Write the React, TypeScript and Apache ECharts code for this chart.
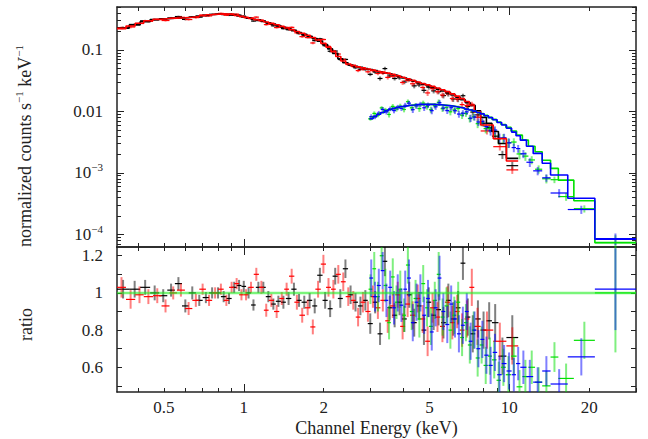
import { useEffect, useRef } from 'react';
import * as echarts from 'echarts';

// one row per channel bin: [low edge (keV), model (counts/s/keV), data/model ratio, ratio error]
type Bin = [number, number, number, number];

const blackBins: Bin[] = [
  [0.333, 0.225, 1.02, 0.05], [0.37, 0.255, 1.02, 0.045], [0.407, 0.289, 1.03, 0.04],
  [0.444, 0.312, 1.0, 0.04], [0.48, 0.322, 0.985, 0.035], [0.515, 0.328, 1.015, 0.035],
  [0.55, 0.333, 1.05, 0.035], [0.585, 0.338, 0.93, 0.035], [0.62, 0.345, 1.0, 0.035],
  [0.66, 0.356, 0.96, 0.03], [0.7, 0.368, 0.975, 0.03], [0.74, 0.378, 1.0, 0.03],
  [0.78, 0.385, 1.0, 0.03], [0.82, 0.384, 0.98, 0.03], [0.86, 0.378, 0.97, 0.03],
  [0.9, 0.368, 1.03, 0.03], [0.94, 0.356, 1.04, 0.03], [0.98, 0.343, 1.035, 0.03],
  [1.02, 0.33, 1.0, 0.03], [1.065, 0.316, 0.935, 0.03], [1.11, 0.303, 1.03, 0.03],
  [1.16, 0.29, 1.03, 0.03], [1.21, 0.277, 0.98, 0.03], [1.265, 0.263, 0.94, 0.03],
  [1.32, 0.249, 0.955, 0.03], [1.38, 0.234, 0.95, 0.035], [1.44, 0.22, 0.97, 0.035],
  [1.51, 0.206, 1.02, 0.035], [1.58, 0.192, 0.96, 0.035], [1.65, 0.18, 0.95, 0.035],
  [1.73, 0.167, 0.96, 0.04], [1.81, 0.153, 0.93, 0.04], [1.89, 0.139, 1.095, 0.04],
  [1.98, 0.122, 0.96, 0.045], [2.07, 0.104, 0.915, 0.045], [2.16, 0.088, 1.09, 0.045],
  [2.26, 0.072, 0.97, 0.05], [2.36, 0.062, 1.13, 0.05], [2.47, 0.057, 0.99, 0.05],
  [2.58, 0.054, 0.95, 0.05], [2.69, 0.052, 0.93, 0.05], [2.81, 0.05, 0.96, 0.055],
  [2.93, 0.048, 0.835, 0.055], [3.06, 0.046, 0.95, 0.06], [3.19, 0.044, 0.78, 0.06],
  [3.33, 0.0425, 1.17, 0.08], [3.47, 0.041, 0.92, 0.065], [3.62, 0.039, 0.88, 0.065],
  [3.78, 0.037, 0.95, 0.07], [3.94, 0.035, 0.86, 0.07], [4.11, 0.033, 0.99, 0.07],
  [4.29, 0.031, 0.84, 0.075], [4.48, 0.029, 0.93, 0.075], [4.67, 0.0275, 0.8, 0.08],
  [4.87, 0.026, 0.95, 0.08], [5.08, 0.0245, 0.88, 0.08], [5.3, 0.023, 0.91, 0.085],
  [5.53, 0.0215, 0.84, 0.085], [5.77, 0.02, 0.96, 0.09], [6.02, 0.0185, 0.86, 0.09],
  [6.28, 0.017, 0.92, 0.09], [6.55, 0.0155, 1.16, 0.09], [6.83, 0.0138, 0.87, 0.1],
  [7.13, 0.0125, 0.78, 0.1], [7.44, 0.0102, 0.86, 0.1], [7.8, 0.008, 0.8, 0.1],
  [8.2, 0.0064, 0.85, 0.1], [8.6, 0.0047, 0.84, 0.1], [9.1, 0.003, 0.66, 0.1],
  [9.75, 0.00172, 0.76, 0.12],
];
const blackEnd = 10.8;

const redBins: Bin[] = [
  [0.333, 0.222, 1.03, 0.055], [0.36, 0.245, 0.965, 0.05], [0.39, 0.272, 0.99, 0.045],
  [0.42, 0.298, 0.98, 0.04], [0.455, 0.316, 0.985, 0.04], [0.49, 0.324, 0.93, 0.035],
  [0.525, 0.33, 1.0, 0.035], [0.56, 0.335, 1.015, 0.035], [0.6, 0.341, 0.916, 0.035],
  [0.64, 0.35, 0.96, 0.035], [0.68, 0.362, 1.02, 0.03], [0.72, 0.373, 0.96, 0.03],
  [0.76, 0.382, 1.0, 0.03], [0.8, 0.386, 1.02, 0.03], [0.84, 0.383, 0.96, 0.03],
  [0.88, 0.375, 1.03, 0.03], [0.92, 0.364, 1.05, 0.03], [0.96, 0.352, 0.99, 0.03],
  [1.0, 0.339, 0.99, 0.03], [1.04, 0.325, 1.03, 0.03], [1.09, 0.311, 1.1, 0.035],
  [1.14, 0.298, 1.03, 0.035], [1.19, 0.285, 0.907, 0.035], [1.24, 0.271, 0.96, 0.035],
  [1.3, 0.257, 0.9, 0.035], [1.36, 0.242, 0.97, 0.035], [1.42, 0.228, 1.02, 0.035],
  [1.48, 0.214, 1.09, 0.04], [1.55, 0.2, 0.95, 0.04], [1.62, 0.187, 0.88, 0.04],
  [1.7, 0.173, 0.92, 0.04], [1.78, 0.159, 0.817, 0.04], [1.86, 0.145, 1.02, 0.045],
  [1.95, 0.128, 1.155, 0.05], [2.04, 0.111, 1.03, 0.05], [2.13, 0.094, 1.02, 0.05],
  [2.22, 0.078, 1.1, 0.05], [2.32, 0.066, 1.06, 0.05], [2.42, 0.059, 0.98, 0.05],
  [2.53, 0.056, 0.96, 0.05], [2.64, 0.053, 0.87, 0.05], [2.75, 0.051, 0.95, 0.055],
  [2.87, 0.049, 0.9, 0.055], [3.0, 0.047, 0.98, 0.06], [3.13, 0.045, 0.92, 0.06],
  [3.27, 0.0435, 0.96, 0.06], [3.41, 0.042, 0.85, 0.065], [3.56, 0.04, 0.93, 0.065],
  [3.72, 0.038, 0.99, 0.07], [3.88, 0.036, 0.82, 0.07], [4.05, 0.034, 0.94, 0.07],
  [4.23, 0.032, 0.88, 0.075], [4.42, 0.03, 0.97, 0.075], [4.62, 0.0285, 0.86, 0.075],
  [4.82, 0.027, 0.74, 0.08], [5.03, 0.0255, 0.92, 0.08], [5.25, 0.024, 0.87, 0.08],
  [5.48, 0.0225, 0.82, 0.085], [5.72, 0.021, 0.95, 0.085], [5.97, 0.0193, 0.84, 0.09],
  [6.23, 0.0177, 0.9, 0.09], [6.5, 0.0161, 0.8, 0.09], [6.78, 0.0145, 0.86, 0.1],
  [7.07, 0.0127, 1.03, 0.1], [7.38, 0.0098, 0.82, 0.1], [7.8, 0.006, 0.8, 0.1],
  [8.7, 0.0036, 0.74, 0.1], [9.75, 0.00156, 0.715, 0.1],
];
const redEnd = 10.8;

const greenBins: Bin[] = [
  [2.95, 0.0075, 1.02, 0.08], [3.05, 0.0082, 1.13, 0.09], [3.15, 0.0089, 0.98, 0.08],
  [3.25, 0.0095, 1.2, 0.08], [3.36, 0.0101, 1.04, 0.09], [3.47, 0.0106, 0.84, 0.09],
  [3.58, 0.0111, 1.086, 0.1], [3.7, 0.0115, 0.95, 0.09], [3.82, 0.0119, 1.02, 0.1],
  [3.95, 0.0122, 0.88, 0.09], [4.08, 0.0125, 1.15, 0.1], [4.22, 0.0127, 0.9, 0.1],
  [4.36, 0.0128, 0.97, 0.1], [4.51, 0.0129, 0.86, 0.1], [4.66, 0.013, 1.05, 0.1],
  [4.82, 0.013, 0.92, 0.1], [4.98, 0.013, 0.82, 0.1], [5.15, 0.0129, 0.96, 0.1],
  [5.33, 0.0128, 1.1, 0.12], [5.51, 0.0127, 0.87, 0.1], [5.7, 0.0125, 0.93, 0.1],
  [5.9, 0.0123, 0.8, 0.1], [6.1, 0.012, 0.88, 0.1], [6.31, 0.0117, 0.95, 0.11],
  [6.53, 0.0114, 0.76, 0.1], [6.75, 0.011, 0.84, 0.1], [6.98, 0.0106, 0.72, 0.1],
  [7.22, 0.0102, 0.8, 0.1], [7.47, 0.0097, 0.65, 0.1], [7.73, 0.0092, 0.72, 0.1],
  [8.0, 0.0086, 0.61, 0.1], [8.3, 0.008, 0.66, 0.1], [8.6, 0.0074, 0.64, 0.1],
  [8.95, 0.0067, 0.53, 0.1], [9.3, 0.0061, 0.6, 0.1], [9.7, 0.0055, 0.56, 0.1],
  [10.15, 0.0048, 0.66, 0.1], [10.65, 0.0041, 0.495, 0.09], [11.2, 0.0034, 0.55, 0.09],
  [11.8, 0.0027, 0.6, 0.09], [12.5, 0.0022, 0.52, 0.08], [13.3, 0.0016, 0.5, 0.08],
  [14.3, 0.00118, 0.655, 0.08], [15.3, 0.00076, 0.54, 0.08], [17.5, 0.00035, 0.745, 0.1],
  [21, 0.000073, 1.0, 0.32],
];
const greenEnd = 30;

const blueBins: Bin[] = [
  [2.97, 0.0076, 1.08, 0.1], [3.07, 0.0083, 0.98, 0.08], [3.17, 0.009, 1.04, 0.09],
  [3.28, 0.0096, 1.12, 0.1], [3.39, 0.0102, 0.96, 0.09], [3.5, 0.0107, 1.03, 0.09],
  [3.62, 0.0112, 0.92, 0.09], [3.74, 0.0116, 1.0, 0.1], [3.86, 0.012, 0.934, 0.09],
  [3.99, 0.0123, 1.02, 0.1], [4.12, 0.0126, 1.08, 0.1], [4.26, 0.0127, 0.84, 0.1],
  [4.4, 0.0129, 0.95, 0.1], [4.55, 0.013, 1.0, 0.1], [4.7, 0.013, 0.88, 0.1],
  [4.86, 0.013, 0.97, 0.1], [5.02, 0.013, 0.79, 0.1], [5.19, 0.0129, 0.92, 0.1],
  [5.37, 0.0128, 1.08, 0.12], [5.55, 0.0126, 0.9, 0.1], [5.74, 0.0124, 0.83, 0.1],
  [5.94, 0.0122, 0.94, 0.1], [6.14, 0.0119, 0.86, 0.1], [6.35, 0.0116, 0.78, 0.1],
  [6.57, 0.0113, 0.826, 0.1], [6.8, 0.0109, 0.9, 0.1], [7.03, 0.0105, 0.74, 0.1],
  [7.27, 0.0101, 0.8, 0.1], [7.52, 0.0096, 0.7, 0.1], [7.78, 0.0091, 0.75, 0.1],
  [8.05, 0.0085, 0.665, 0.1], [8.35, 0.0079, 0.61, 0.1], [8.66, 0.0073, 0.68, 0.1],
  [9.0, 0.0066, 0.56, 0.1], [9.36, 0.006, 0.62, 0.1], [9.76, 0.0053, 0.58, 0.1],
  [10.2, 0.0046, 0.56, 0.09], [10.6, 0.004, 0.62, 0.09], [11.0, 0.0034, 0.6, 0.09],
  [11.6, 0.0027, 0.55, 0.09], [12.3, 0.00207, 0.52, 0.08], [13.3, 0.00143, 0.58, 0.08],
  [14.3, 0.00092, 0.51, 0.08], [16.6, 0.000385, 0.656, 0.1], [21, 0.000083, 1.02, 0.22],
];
const blueEnd = 30;

const xLabelValues = [0.5, 1, 2, 5, 10, 20];
const xMajorTicks = [1, 10];
const yTopLabelValues = [0.1, 0.01, 0.001, 0.0001];
const ratioLabelValues = [0.6, 0.8, 1, 1.2];
const ratioTickValues = [0.5, 0.6, 0.7, 0.8, 0.9, 1, 1.1, 1.2];

const X_MIN = 0.333;
const X_MAX = 30;
const Y_MIN = 6.2e-5;
const Y_MAX = 0.5;
const R_MIN = 0.467;
const R_MAX = 1.247;

const FONT = '"Liberation Serif", "DejaVu Serif", serif';
const INK = '#222';

function logMinors(lo: number, hi: number) {
  const out: number[] = [];
  for (let d = Math.floor(Math.log10(lo)); d <= Math.ceil(Math.log10(hi)); d++) {
    for (let k = 2; k <= 9; k++) {
      const v = +(k * Math.pow(10, d)).toPrecision(3);
      if (v >= lo && v <= hi) out.push(v);
    }
  }
  return out;
}

function edgesOf(bins: Bin[], end: number) {
  return bins.map((b, i) => [b[0], i + 1 < bins.length ? bins[i + 1][0] : end]);
}

function stepLine(bins: Bin[], end: number) {
  const e = edgesOf(bins, end);
  const pts: number[][] = [];
  bins.forEach((b, i) => {
    pts.push([e[i][0], b[1]], [e[i][1], b[1]]);
  });
  return pts;
}

function crossRows(bins: Bin[], end: number, top: boolean) {
  const e = edgesOf(bins, end);
  return bins.map((b, i) =>
    top ? [e[i][0], e[i][1], b[1] * b[2], b[1] * b[3]] : [e[i][0], e[i][1], b[2], b[3]]
  );
}

const crossItem = (color: string) => (_params: any, api: any) => {
  const lo = api.value(0);
  const hi = api.value(1);
  const y = api.value(2);
  const err = api.value(3);
  const xc = Math.sqrt(lo * hi);
  const a = api.coord([lo, y]);
  const b = api.coord([hi, y]);
  const t = api.coord([xc, y + err]);
  const u = api.coord([xc, Math.max(y - err, 1e-9)]);
  return {
    type: 'group',
    children: [
      { type: 'line', shape: { x1: t[0], y1: t[1], x2: u[0], y2: u[1] }, style: { stroke: color, lineWidth: 2, opacity: 0.5 } },
      { type: 'line', shape: { x1: a[0], y1: a[1], x2: b[0], y2: b[1] }, style: { stroke: color, lineWidth: 1.2 } },
    ],
  };
};

const frameLine = { show: true, lineStyle: { color: INK, width: 1.5 } };
const tickStyle = { color: INK, width: 1 };
const labelStyle = { fontFamily: FONT, fontSize: 17, color: INK };

function xAxesFor(grid: number) {
  const base = { gridIndex: grid, type: 'log', min: X_MIN, max: X_MAX, splitLine: { show: false } };
  const minor = { show: true, inside: true, length: 4, customValues: logMinors(X_MIN, X_MAX), lineStyle: tickStyle };
  const major = { show: true, inside: true, length: 8, customValues: xMajorTicks, lineStyle: tickStyle };
  return [
    {
      ...base,
      position: 'bottom',
      axisLine: frameLine,
      axisTick: minor,
      axisLabel:
        grid === 1
          ? { ...labelStyle, margin: 7, customValues: xLabelValues, formatter: (v: number) => String(v) }
          : { show: false },
      name: grid === 1 ? 'Channel Energy (keV)' : '',
      nameLocation: 'middle',
      nameGap: 27,
      nameTextStyle: { fontFamily: FONT, fontSize: 18, color: INK },
    },
    { ...base, position: 'bottom', axisLine: { show: false }, axisTick: major, axisLabel: { show: false } },
    { ...base, position: 'top', axisLine: frameLine, axisTick: minor, axisLabel: { show: false } },
    { ...base, position: 'top', axisLine: { show: false }, axisTick: major, axisLabel: { show: false } },
  ];
}

const topYBase = { gridIndex: 0, type: 'log', min: Y_MIN, max: Y_MAX, splitLine: { show: false } };
const topMinor = { show: true, inside: true, length: 4, customValues: logMinors(Y_MIN, Y_MAX), lineStyle: tickStyle };
const topMajor = { show: true, inside: true, length: 7, customValues: yTopLabelValues, lineStyle: tickStyle };
const ratioBase = { gridIndex: 1, type: 'value', min: R_MIN, max: R_MAX, splitLine: { show: false } };
const ratioTicks = { show: true, inside: true, length: 5, customValues: ratioTickValues, lineStyle: tickStyle };

const yAxes = [
  {
    ...topYBase,
    position: 'left',
    axisLine: frameLine,
    axisTick: topMinor,
    axisLabel: {
      ...labelStyle,
      margin: 14,
      lineHeight: 22,
      customValues: yTopLabelValues,
      formatter: (v: number) => (v >= 0.01 ? String(v) : '10{sup|−' + Math.round(-Math.log10(v)) + '}'),
      rich: { sup: { fontFamily: FONT, fontSize: 11, color: INK, verticalAlign: 'top' } },
    },
    name: 'normalized counts s{sup|−1} keV{sup|−1}',
    nameLocation: 'middle',
    nameRotate: 90,
    nameGap: 80,
    nameTextStyle: {
      fontFamily: FONT,
      fontSize: 18,
      color: INK,
      lineHeight: 24,
      padding: [0, 38, 0, 0],
      rich: { sup: { fontFamily: FONT, fontSize: 11, color: INK, verticalAlign: 'top' } },
    },
  },
  { ...topYBase, position: 'left', axisLine: { show: false }, axisTick: topMajor, axisLabel: { show: false } },
  { ...topYBase, position: 'right', axisLine: frameLine, axisTick: topMinor, axisLabel: { show: false } },
  { ...topYBase, position: 'right', axisLine: { show: false }, axisTick: topMajor, axisLabel: { show: false } },
  {
    ...ratioBase,
    position: 'left',
    axisLine: frameLine,
    axisTick: ratioTicks,
    axisLabel: { ...labelStyle, margin: 14, customValues: ratioLabelValues, formatter: (v: number) => String(v) },
    name: 'ratio',
    nameLocation: 'middle',
    nameRotate: 90,
    nameGap: 82,
    nameTextStyle: { fontFamily: FONT, fontSize: 18, color: INK, padding: [0, 10, 0, 0] },
  },
  { ...ratioBase, position: 'right', axisLine: frameLine, axisTick: ratioTicks, axisLabel: { show: false } },
];

const datasets = [
  { bins: blackBins, end: blackEnd, color: '#000000' },
  { bins: redBins, end: redEnd, color: '#ff0000' },
  { bins: greenBins, end: greenEnd, color: '#00e000' },
  { bins: blueBins, end: blueEnd, color: '#0000ff' },
];

export default function App() {
  const chartRef = useRef<HTMLDivElement>(null);

  useEffect(() => {
    if (!chartRef.current) return;
    const chart = echarts.init(chartRef.current, undefined, { renderer: 'svg' });

    const series: any[] = [];
    datasets.forEach((d) => {
      series.push({
        type: 'custom',
        xAxisIndex: 0,
        yAxisIndex: 0,
        clip: true,
        silent: true,
        encode: { x: [0, 1], y: [2] },
        renderItem: crossItem(d.color),
        data: crossRows(d.bins, d.end, true),
      });
      series.push({
        type: 'line',
        xAxisIndex: 0,
        yAxisIndex: 0,
        symbol: 'none',
        silent: true,
        clip: true,
        lineStyle: { color: d.color, width: 1.6 },
        data: stepLine(d.bins, d.end),
      });
    });
    datasets.forEach((d) => {
      series.push({
        type: 'custom',
        xAxisIndex: 4,
        yAxisIndex: 4,
        clip: true,
        silent: true,
        encode: { x: [0, 1], y: [2] },
        renderItem: crossItem(d.color),
        data: crossRows(d.bins, d.end, false),
      });
    });
    series.push({
      type: 'line',
      xAxisIndex: 4,
      yAxisIndex: 4,
      symbol: 'none',
      silent: true,
      lineStyle: { color: '#22ee22', width: 2.5, opacity: 0.6 },
      data: [
        [X_MIN, 1],
        [X_MAX, 1],
      ],
    });

    chart.setOption({
      animation: false,
      backgroundColor: '#ffffff',
      grid: [
        { left: 117, right: 12, top: 7, height: 240 },
        { left: 117, right: 12, top: 247, height: 145 },
      ],
      xAxis: [...xAxesFor(0), ...xAxesFor(1)],
      yAxis: yAxes,
      series,
    });

    return () => {
      chart.dispose();
    };
  }, []);

  return (
    <div
      ref={chartRef}
      style={{ position: 'absolute', left: 0, top: 0, width: 648, height: 439, background: '#fff' }}
    />
  );
}
